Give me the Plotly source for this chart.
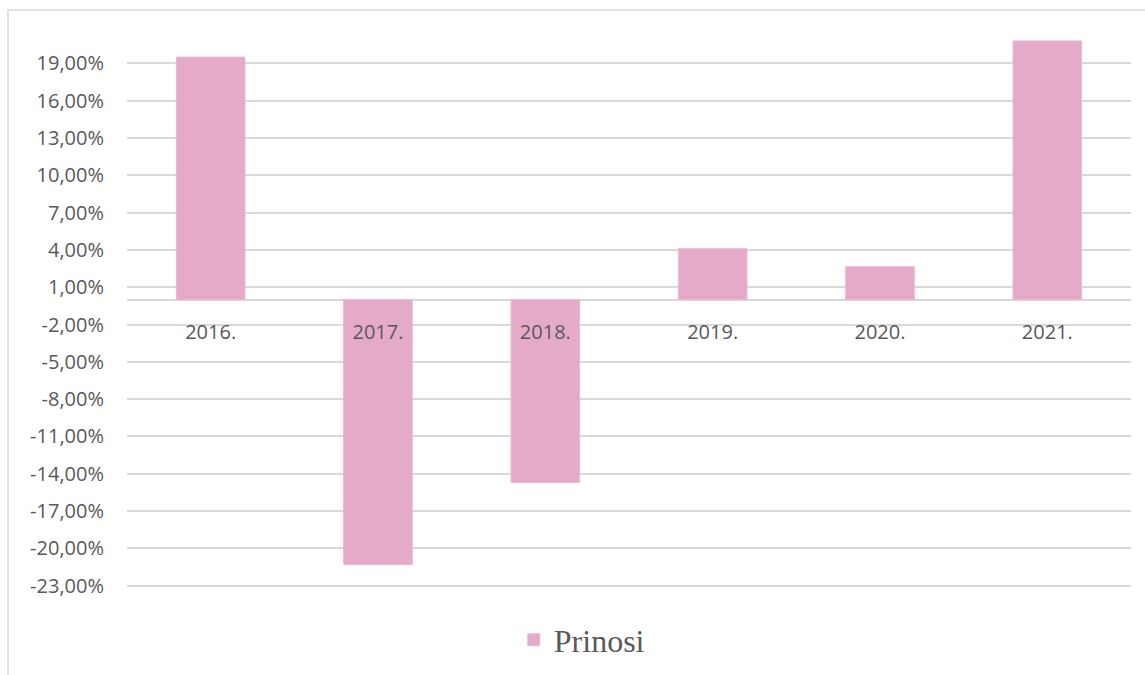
import plotly.graph_objects as go

categories = ["2016.", "2017.", "2018.", "2019.", "2020.", "2021."]
prinosi = [19.5, -21.3, -14.7, 4.1, 2.65, 20.8]
y_ticks = [-23, -20, -17, -14, -11, -8, -5, -2, 1, 4, 7, 10, 13, 16, 19]
y_tick_labels = [f"{v:.2f}".replace(".", ",") + "%" for v in y_ticks]

y_min, y_max = -30.18, 21.52
zero_pos = (0 - y_min) / (y_max - y_min)

fig = go.Figure()
fig.add_trace(go.Bar(
    x=categories, y=prinosi, name="Prinosi",
    marker=dict(color="#E6AAC9", line=dict(color="#EBB8D2", width=1)),
    width=0.41,
))

fig.update_layout(
    width=1145, height=675,
    margin=dict(l=127, r=14, t=32, b=0),
    paper_bgcolor="white", plot_bgcolor="white",
    font=dict(family="Open Sans", size=20, color="#595959"),
    showlegend=True,
    legend=dict(
        x=0.453, xanchor="center",
        y=0.0544, yanchor="middle",
        bgcolor="rgba(0,0,0,0)",
        font=dict(family="Liberation Serif", size=32, color="#595959"),
        itemwidth=30,
    ),
    xaxis=dict(
        anchor="free", position=zero_pos,
        showgrid=False, showline=False, ticks="",
        ticklabelstandoff=18,
        tickfont=dict(size=20, color="#595959"),
    ),
    yaxis=dict(
        range=[y_min, y_max],
        tickmode="array", tickvals=y_ticks, ticktext=y_tick_labels,
        showgrid=True, gridcolor="#D9D9D9", gridwidth=1.5,
        zeroline=True, zerolinecolor="#D9D9D9", zerolinewidth=1.5,
        showline=False, ticks="",
        ticklabelstandoff=22,
        tickfont=dict(size=20, color="#595959"),
    ),
    shapes=[dict(
        type="rect", xref="paper", yref="paper",
        x0=-0.1185, x1=1.2, y0=-0.3, y1=1.0342,
        line=dict(color="#D9D9D9", width=1.5), layer="below",
    )],
)

fig.write_html("out.html")
